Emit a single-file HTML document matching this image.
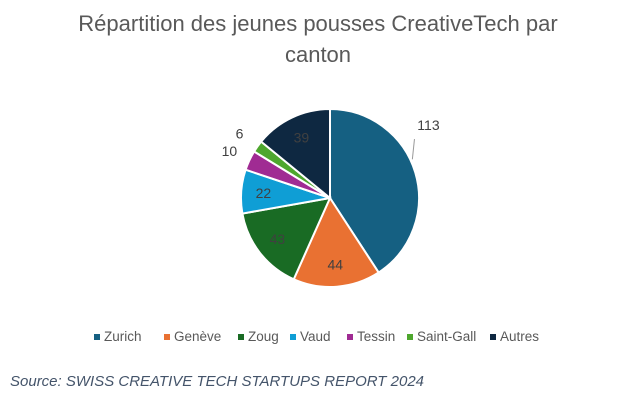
<!DOCTYPE html>
<html><head><meta charset="utf-8"><style>
body{margin:0;background:#fff;width:630px;height:415px;overflow:hidden;font-family:"Liberation Sans",sans-serif;}
</style></head><body>
<svg width="630" height="415" viewBox="0 0 630 415">
<text x="318" y="31" text-anchor="middle" font-size="22" fill="#595959">Répartition des jeunes pousses CreativeTech par</text>
<text x="318" y="62" text-anchor="middle" font-size="22" fill="#595959">canton</text>
<g id="slices"></g>
<g id="labels"></g>
<g id="legend"></g>
<text x="10" y="386" font-size="15" font-style="italic" fill="#44546a">Source: SWISS CREATIVE TECH STARTUPS REPORT 2024</text>
</svg>
<script>
const categories=["Zurich","Genève","Zoug","Vaud","Tessin","Saint-Gall","Autres"];
const values=[113,44,43,22,10,6,39];
const colors=["#156082","#e97132","#196b24","#0f9ed5","#a02b93","#4ea72e","#0e2841"];
const NS="http://www.w3.org/2000/svg";
const cx=330,cy=198,r=89;
const total=values.reduce((a,b)=>a+b,0);
const sg=document.getElementById('slices'),lg=document.getElementById('labels'),leg=document.getElementById('legend');
function pt(a,rr){return [cx+rr*Math.sin(a),cy-rr*Math.cos(a)];}
let acc=0;
values.forEach((v,i)=>{
  const a0=acc/total*2*Math.PI;acc+=v;const a1=acc/total*2*Math.PI;
  const p0=pt(a0,r),p1=pt(a1,r);const large=(a1-a0)>Math.PI?1:0;
  const p=document.createElementNS(NS,'path');
  p.setAttribute('d',`M${cx},${cy} L${p0[0]},${p0[1]} A${r},${r} 0 ${large} 1 ${p1[0]},${p1[1]} Z`);
  p.setAttribute('fill',colors[i]);p.setAttribute('stroke','#fff');p.setAttribute('stroke-width','2');
  
  
  sg.appendChild(p);
  const am=(a0+a1)/2;const frac=v/total;
  let lp;
  if(i===0){
    const e=pt(am-0.15,r+2),s=pt(am-0.32,r+14);
    const l=document.createElementNS(NS,'line');
    l.setAttribute('x1',e[0]);l.setAttribute('y1',e[1]);l.setAttribute('x2',s[0]);l.setAttribute('y2',s[1]);
    l.setAttribute('stroke','#999');l.setAttribute('stroke-width','1');
    
    
    lg.appendChild(l);
    lp=[s[0]+14,s[1]-14];
  } else if(frac<0.1 && i!==3){
    lp=pt(am,r+22);
  } else lp=pt(am,r*0.75);
  const t=document.createElementNS(NS,'text');
  t.setAttribute('x',lp[0]);t.setAttribute('y',lp[1]+5);t.setAttribute('text-anchor','middle');
  t.setAttribute('font-size','14');t.setAttribute('fill','#404040');
  t.textContent=v;
  
  
  lg.appendChild(t);
});
const lx=[94,164,238,290,347,407,490];
categories.forEach((c,i)=>{
  const g=document.createElementNS(NS,'g');
  
  
  const rc=document.createElementNS(NS,'rect');
  rc.setAttribute('x',lx[i]);rc.setAttribute('y',334);rc.setAttribute('width',6);rc.setAttribute('height',6);rc.setAttribute('fill',colors[i]);
  const t=document.createElementNS(NS,'text');
  t.setAttribute('x',lx[i]+10);t.setAttribute('y',341);t.setAttribute('font-size','13.5');t.setAttribute('fill','#595959');
  t.textContent=c;
  g.appendChild(rc);g.appendChild(t);leg.appendChild(g);
});
</script>
</body></html>
